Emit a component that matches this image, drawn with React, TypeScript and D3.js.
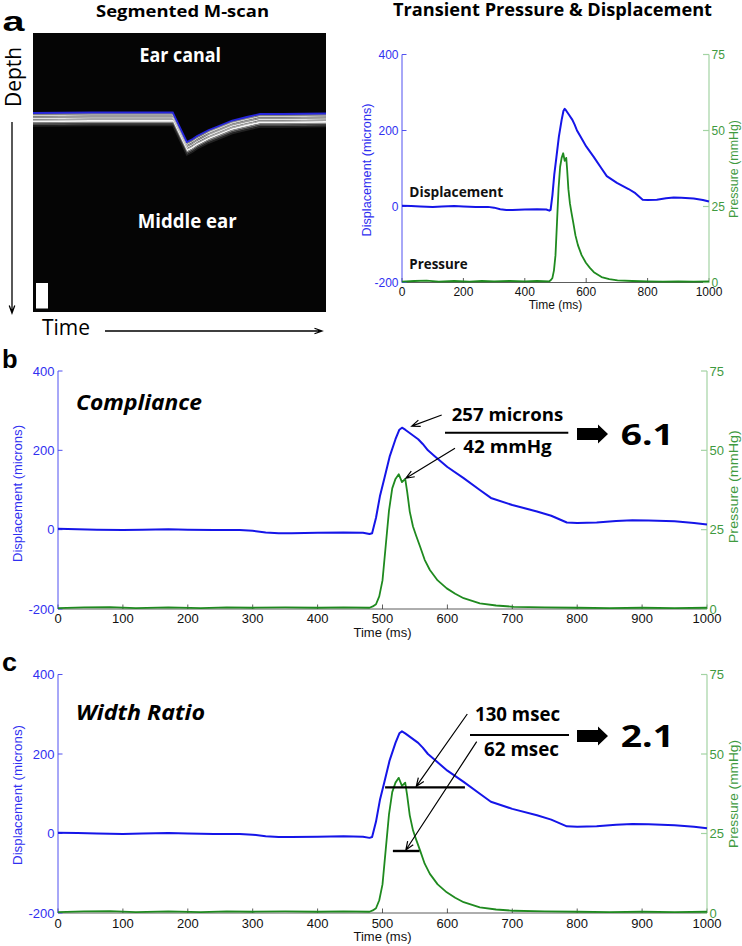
import React from "react";
import * as d3 from "d3";

// ---------------- DATA ----------------
// Displacement of the tympanic membrane (microns) vs time (ms)
const dispTime = [0, 30, 60, 100, 130, 170, 200, 240, 280, 300, 320, 340, 360, 400, 440, 470, 480, 484, 490, 496, 503, 511, 520, 526, 530, 535, 545, 555, 562, 570, 580, 600, 625, 650, 667, 700, 738, 760, 784, 800, 830, 860, 885, 910, 950, 980, 1000];
const dispMicrons = [2, 1, 0, -1, 0, 1, 0, -1, -1, -3, -7, -9, -9, -8, -7, -8, -11, -9, 30, 84, 130, 184, 228, 252, 257, 252, 240, 228, 216, 200, 186, 158, 130, 100, 80, 62, 46, 35, 18, 17, 18, 22, 24, 23, 21, 17, 13];

// Ear-canal pressure (mmHg) vs time (ms)
const presTime = [0, 40, 80, 120, 170, 220, 260, 300, 350, 400, 440, 480, 485, 490, 495, 500, 505, 510, 515, 520, 525, 530, 535, 538, 542, 547, 552, 558, 565, 573, 585, 599, 612, 625, 650, 675, 702, 750, 800, 850, 900, 950, 1000];
const presMmHg = [0.3, 0.5, 0.6, 0.3, 0.5, 0.3, 0.5, 0.4, 0.5, 0.4, 0.5, 0.4, 0.8, 1.5, 4, 9, 20, 31, 38, 41, 42.5, 40, 41, 37, 30.7, 26, 23, 19.6, 15.5, 12.3, 9, 6.5, 4.8, 3.4, 1.8, 1.1, 0.7, 0.5, 0.4, 0.3, 0.4, 0.3, 0.4];

// Segmented M-scan surface (depth rows) vs time (a.u.)
const mscanTime = [0, 200, 477, 525, 545, 560, 580, 600, 630, 680, 730, 775, 850, 1000];
const mscanSurface = [80, 79.5, 79.5, 109, 106, 103, 100, 97, 93.5, 87.5, 84, 81, 81, 80.5];

// Ticks
const xTicksTop = [0, 200, 400, 600, 800, 1000];
const xTicksFull = [0, 100, 200, 300, 400, 500, 600, 700, 800, 900, 1000];
const dispTicks = [-200, 0, 200, 400];
const presTicks = [0, 25, 50, 75];

// Width-ratio bars (panel c): [start ms, end ms, level]
const dispWidthBar = [504, 627, 116];
const presWidthBar = [516, 557, 19.5];

// Annotation values
const complianceNumbers = ["257 microns", "42 mmHg", "6.1"];
const widthNumbers = ["130 msec", "62 msec", "2.1"];

// ---------------- STYLE ----------------
const SANS = "'Liberation Sans', Arial, sans-serif";
const CAL = "'Open Sans', 'Lato', sans-serif";
const LINE_BLUE = "#1515e8";
const LINE_GREEN = "#1f8a1f";
const AX_BLUE = "#5050f0";
const AX_GREEN = "#a3d3a3";
const TXT_BLUE = "#3030f0";
const TXT_GREEN = "#3f9a3f";

type Box = { l: number; r: number; t: number; b: number };

function arrowPath(x1: number, y1: number, x2: number, y2: number, len = 9, ang = 0.38) {
  const a = Math.atan2(y2 - y1, x2 - x1);
  const hx1 = x2 - len * Math.cos(a - ang);
  const hy1 = y2 - len * Math.sin(a - ang);
  const hx2 = x2 - len * Math.cos(a + ang);
  const hy2 = y2 - len * Math.sin(a + ang);
  return `M${x1},${y1}L${x2},${y2}M${hx1},${hy1}L${x2},${y2}L${hx2},${hy2}`;
}

function blockArrow(x0: number, x1: number, cy: number) {
  const hx = x1 - 10;
  return `M${x0},${cy - 6}L${hx},${cy - 6}L${hx},${cy - 9.5}L${x1},${cy}L${hx},${cy + 9.5}L${hx},${cy + 6}L${x0},${cy + 6}Z`;
}

function scalesFor(b: Box) {
  const x = d3.scaleLinear().domain([0, 1000]).range([b.l, b.r]);
  const yD = d3.scaleLinear().domain([-200, 400]).range([b.b, b.t]);
  const yP = d3.scaleLinear().domain([0, 75]).range([b.b, b.t]);
  return { x, yD, yP };
}

type LabelPos = { x: number; cy: number; len: number; size: number };

function DualPlot(props: {
  b: Box;
  xTicks: number[];
  fs: number;
  xTickY: number;
  xLabelY: number;
  leftLab: LabelPos;
  rightLab: LabelPos;
}) {
  const { b, xTicks, fs, xTickY, xLabelY, leftLab, rightLab } = props;
  const { x, yD, yP } = scalesFor(b);
  const dispLine = d3
    .line<number>()
    .x((_, i) => x(dispTime[i]))
    .y((d) => yD(d))(dispMicrons) as string;
  const presLine = d3
    .line<number>()
    .x((_, i) => x(presTime[i]))
    .y((d) => yP(d))(presMmHg) as string;
  const tk = 4.5;
  return (
    <g>
      {/* bottom axis */}
      <line x1={b.l} x2={b.r} y1={b.b} y2={b.b} stroke="#333" strokeWidth={0.8} />
      {xTicks.map((t) => (
        <g key={"xt" + t}>
          <line x1={x(t)} x2={x(t)} y1={b.b} y2={b.b - tk} stroke="#333" strokeWidth={0.8} />
          <text x={x(t)} y={xTickY} textAnchor="middle" fontFamily={SANS} fontSize={fs} fill="#111">
            {t}
          </text>
        </g>
      ))}
      <text x={(b.l + b.r) / 2} y={xLabelY} textAnchor="middle" fontFamily={SANS} fontSize={fs} fill="#111">
        Time (ms)
      </text>
      {/* left axis */}
      <line x1={b.l} x2={b.l} y1={b.t} y2={b.b} stroke={AX_BLUE} strokeWidth={1} />
      {dispTicks.map((t) => (
        <g key={"yl" + t}>
          <line x1={b.l} x2={b.l + tk} y1={yD(t)} y2={yD(t)} stroke={AX_BLUE} strokeWidth={1} />
          <text x={b.l - 3.5} y={yD(t)} dy="0.36em" textAnchor="end" fontFamily={SANS} fontSize={fs} fill={TXT_BLUE}>
            {t}
          </text>
        </g>
      ))}
      <text
        transform={`translate(${leftLab.x},${leftLab.cy}) rotate(-90)`}
        textAnchor="middle"
        fontFamily={SANS}
        fontSize={leftLab.size}
        fill={TXT_BLUE}
        textLength={leftLab.len}
        lengthAdjust="spacingAndGlyphs"
      >
        Displacement (microns)
      </text>
      {/* right axis */}
      <line x1={b.r} x2={b.r} y1={b.t} y2={b.b} stroke={AX_GREEN} strokeWidth={1.2} />
      {presTicks.map((t) => (
        <g key={"yr" + t}>
          <line x1={b.r} x2={b.r - tk - 1.5} y1={yP(t)} y2={yP(t)} stroke={AX_GREEN} strokeWidth={1.2} />
          <text x={b.r + 2.5} y={yP(t)} dy="0.36em" textAnchor="start" fontFamily={SANS} fontSize={fs} fill={TXT_GREEN}>
            {t}
          </text>
        </g>
      ))}
      <text
        transform={`translate(${rightLab.x},${rightLab.cy}) rotate(-90)`}
        textAnchor="middle"
        fontFamily={SANS}
        fontSize={rightLab.size}
        fill={TXT_GREEN}
        textLength={rightLab.len}
        lengthAdjust="spacingAndGlyphs"
      >
        Pressure (mmHg)
      </text>
      {/* data */}
      <path d={dispLine} fill="none" stroke={LINE_BLUE} strokeWidth={2} strokeLinejoin="round" />
      <path d={presLine} fill="none" stroke={LINE_GREEN} strokeWidth={1.8} strokeLinejoin="round" />
    </g>
  );
}

function MScan() {
  const x = d3.scaleLinear().domain([0, 1000]).range([33, 326]);
  const y = d3.scaleLinear().domain([0, 279]).range([33, 312]);
  const layers: [number, string, number][] = [
    [1, "#8a8a8a", 1.4],
    [2.5, "#cfcfcf", 1.4],
    [4, "#9a9a9a", 1.4],
    [5.5, "#e2e2e2", 1.4],
    [7, "#a5a5a5", 1.4],
    [8.5, "#f6f6f6", 1.8],
    [10, "#8a8a8a", 1.4],
    [11.5, "#4a4a4a", 1.4],
    [13, "#222", 1.4],
  ];
  const mk = (off: number) =>
    d3
      .line<number>()
      .x((_, i) => x(mscanTime[i]))
      .y((d) => y(d + off))(mscanSurface) as string;
  return (
    <g>
      <rect x={33} y={33} width={293} height={279} fill="#050505" />
      {layers.map(([off, c, w], i) => (
        <path key={i} d={mk(off)} fill="none" stroke={c} strokeWidth={w} />
      ))}
      <path d={mk(0)} fill="none" stroke="#2626dc" strokeWidth={1.8} />
      <rect x={36} y={283} width={12} height={25.5} fill="#fff" />
      <text x={139.5} y={61.7} fontFamily={CAL} fontWeight={700} fontSize={19} fill="#fff" textLength={81.5} lengthAdjust="spacingAndGlyphs">
        Ear canal
      </text>
      <text x={137.7} y={228.3} fontFamily={CAL} fontWeight={700} fontSize={19} fill="#fff" textLength={99} lengthAdjust="spacingAndGlyphs">
        Middle ear
      </text>
    </g>
  );
}

export default function App() {
  const topBox: Box = { l: 402, r: 709, t: 54.5, b: 282.5 };
  const bBox: Box = { l: 58, r: 707, t: 371, b: 609 };
  const cBox: Box = { l: 58, r: 707, t: 674.5, b: 913 };
  const sb = scalesFor(bBox);
  const sc = scalesFor(cBox);

  return (
    <svg width={742} height={946} style={{ position: "absolute", left: 0, top: 0, background: "#fff" }}>
      <rect x={0} y={0} width={742} height={946} fill="#fff" />
      {/* ---------- Panel a ---------- */}
      <text x={2.5} y={30.5} fontFamily={SANS} fontWeight={700} fontSize={27} fill="#000" textLength={22} lengthAdjust="spacingAndGlyphs">
        a
      </text>
      <text x={96} y={16.7} fontFamily={CAL} fontWeight={700} fontSize={16.5} fill="#000" textLength={173} lengthAdjust="spacingAndGlyphs">
        Segmented M-scan
      </text>
      <text x={393} y={16} fontFamily={CAL} fontWeight={700} fontSize={17} fill="#000" textLength={319} lengthAdjust="spacingAndGlyphs">
        Transient Pressure &amp; Displacement
      </text>
      <MScan />
      <text transform="translate(20.5,107) rotate(-90)" fontFamily={CAL} fontSize={22} fill="#000" textLength={60} lengthAdjust="spacingAndGlyphs">
        Depth
      </text>
      <path d={arrowPath(12, 122, 12, 313, 8, 0.35)} fill="none" stroke="#000" strokeWidth={1.3} />
      <text x={42} y={335} fontFamily={CAL} fontSize={21} fill="#000" textLength={48} lengthAdjust="spacingAndGlyphs">
        Time
      </text>
      <path d={arrowPath(105, 331, 322, 331, 8, 0.35)} fill="none" stroke="#000" strokeWidth={1.3} />

      <DualPlot
        b={topBox}
        xTicks={xTicksTop}
        fs={12}
        xTickY={296}
        xLabelY={308.5}
        leftLab={{ x: 370.5, cy: 170, len: 133, size: 12.5 }}
        rightLab={{ x: 737.5, cy: 169, len: 98, size: 12.5 }}
      />
      <text x={409.3} y={197.3} fontFamily={CAL} fontWeight={700} fontSize={15} fill="#111" textLength={94} lengthAdjust="spacingAndGlyphs">
        Displacement
      </text>
      <text x={409.3} y={269.3} fontFamily={CAL} fontWeight={700} fontSize={15} fill="#111" textLength={58.4} lengthAdjust="spacingAndGlyphs">
        Pressure
      </text>

      {/* ---------- Panel b ---------- */}
      <text x={2} y={368.3} fontFamily={SANS} fontWeight={700} fontSize={25} fill="#000" textLength={15.6} lengthAdjust="spacingAndGlyphs">
        b
      </text>
      <DualPlot
        b={bBox}
        xTicks={xTicksFull}
        fs={13}
        xTickY={623}
        xLabelY={637}
        leftLab={{ x: 22.3, cy: 493.5, len: 137, size: 13 }}
        rightLab={{ x: 737.5, cy: 486.7, len: 113, size: 13 }}
      />
      <text x={76} y={410} fontFamily={CAL} fontWeight={700} fontStyle="italic" fontSize={21} fill="#000" textLength={126} lengthAdjust="spacingAndGlyphs">
        Compliance
      </text>
      <text x={451.7} y={420.7} fontFamily={CAL} fontWeight={700} fontSize={17.4} fill="#000" textLength={111.6} lengthAdjust="spacingAndGlyphs">
        {complianceNumbers[0]}
      </text>
      <line x1={445} x2={568.3} y1={432.7} y2={432.7} stroke="#000" strokeWidth={2} />
      <text x={463.3} y={453.3} fontFamily={CAL} fontWeight={700} fontSize={17.4} fill="#000" textLength={88.4} lengthAdjust="spacingAndGlyphs">
        {complianceNumbers[1]}
      </text>
      <path d={blockArrow(577, 608, 434)} fill="#000" />
      <text x={620.7} y={445} fontFamily={CAL} fontWeight={700} fontSize={28.5} fill="#000" textLength={53} lengthAdjust="spacingAndGlyphs">
        {complianceNumbers[2]}
      </text>
      <path d={arrowPath(441.7, 415, sb.x(545), sb.yD(261))} fill="none" stroke="#000" strokeWidth={1.2} />
      <path d={arrowPath(455, 448.3, sb.x(536), sb.yP(41.2))} fill="none" stroke="#000" strokeWidth={1.2} />

      {/* ---------- Panel c ---------- */}
      <text x={2} y={670.7} fontFamily={SANS} fontWeight={700} fontSize={26} fill="#000" textLength={15} lengthAdjust="spacingAndGlyphs">
        c
      </text>
      <DualPlot
        b={cBox}
        xTicks={xTicksFull}
        fs={13}
        xTickY={927.5}
        xLabelY={940.5}
        leftLab={{ x: 22, cy: 795, len: 140, size: 13 }}
        rightLab={{ x: 737.5, cy: 794, len: 108, size: 13 }}
      />
      <text x={76} y={720} fontFamily={CAL} fontWeight={700} fontStyle="italic" fontSize={21} fill="#000" textLength={129} lengthAdjust="spacingAndGlyphs">
        Width Ratio
      </text>
      <line x1={sc.x(dispWidthBar[0])} x2={sc.x(dispWidthBar[1])} y1={sc.yD(dispWidthBar[2])} y2={sc.yD(dispWidthBar[2])} stroke="#000" strokeWidth={2.4} />
      <line x1={sc.x(presWidthBar[0])} x2={sc.x(presWidthBar[1])} y1={sc.yP(presWidthBar[2])} y2={sc.yP(presWidthBar[2])} stroke="#000" strokeWidth={2.4} />
      <text x={475} y={721} fontFamily={CAL} fontWeight={700} fontSize={19.5} fill="#000" textLength={85} lengthAdjust="spacingAndGlyphs">
        {widthNumbers[0]}
      </text>
      <line x1={470} x2={569} y1={735} y2={735} stroke="#000" strokeWidth={2} />
      <text x={484} y={756} fontFamily={CAL} fontWeight={700} fontSize={19.5} fill="#000" textLength={75} lengthAdjust="spacingAndGlyphs">
        {widthNumbers[1]}
      </text>
      <path d={blockArrow(577, 608, 736)} fill="#000" />
      <text x={620.7} y={746.7} fontFamily={CAL} fontWeight={700} fontSize={31} fill="#000" textLength={53.3} lengthAdjust="spacingAndGlyphs">
        {widthNumbers[2]}
      </text>
      <path d={arrowPath(467.3, 714, sc.x(552), sc.yD(dispWidthBar[2]) - 1)} fill="none" stroke="#000" strokeWidth={1.2} />
      <path d={arrowPath(476.7, 741.7, sc.x(536), sc.yP(presWidthBar[2]) - 1)} fill="none" stroke="#000" strokeWidth={1.2} />
    </svg>
  );
}
